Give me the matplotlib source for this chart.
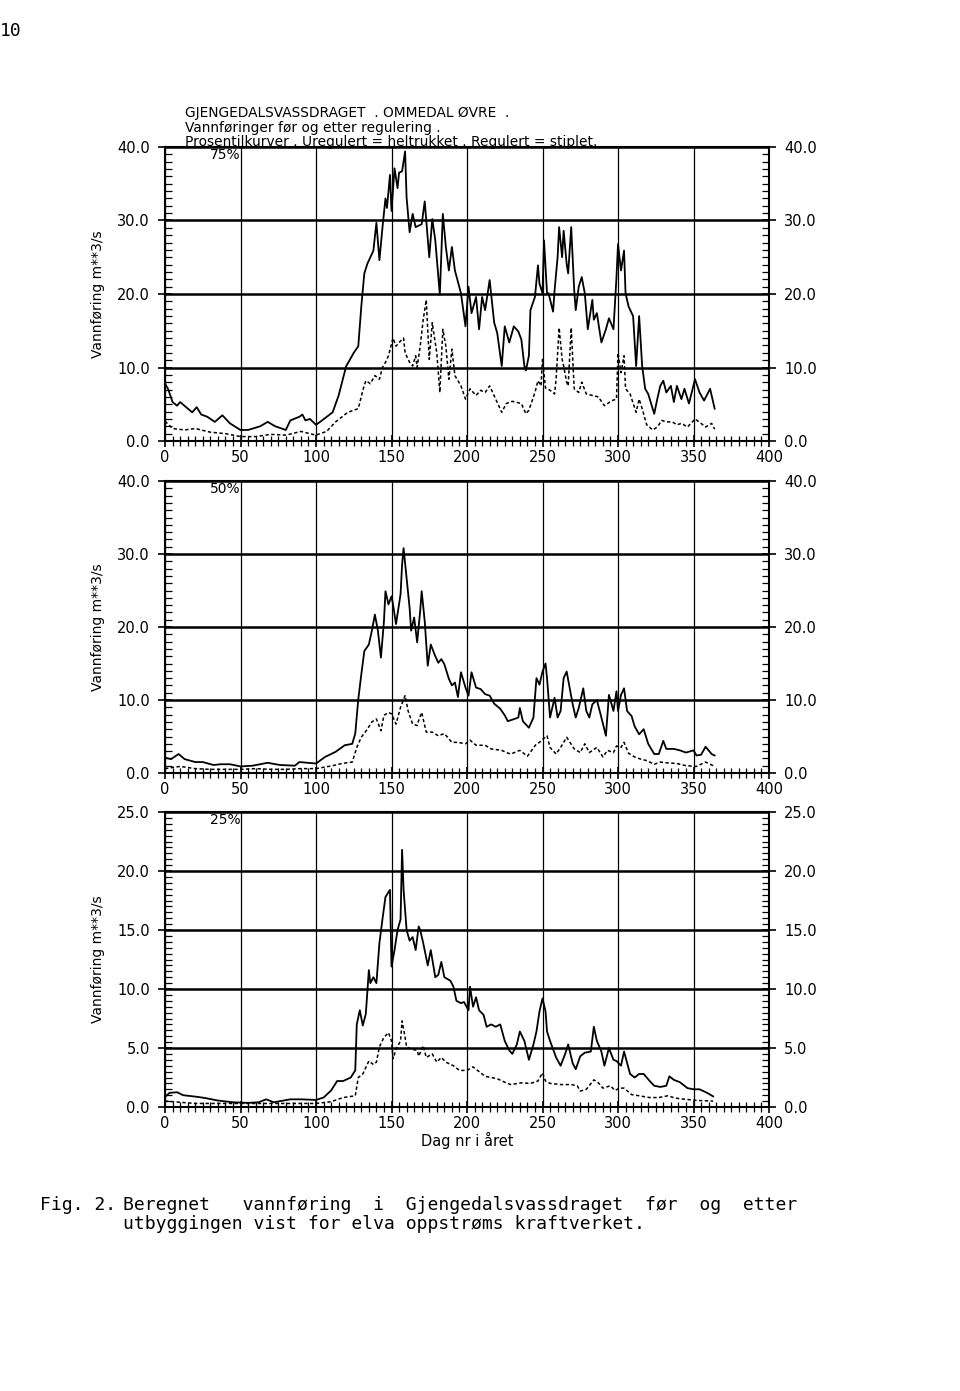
import numpy as np
import matplotlib.pyplot as plt
from matplotlib.ticker import MultipleLocator, FormatStrFormatter

# Panel 1 (75 %) - unregulated (solid) and regulated (dashed)
p1_ureg_day = [0, 2, 5, 8, 10, 14, 18, 21, 24, 28, 33, 38, 43, 50, 55, 63, 68, 73, 80, 83, 89, 91, 93, 96,
               100, 104, 111, 115, 120, 122, 125, 128, 130, 132, 134, 136, 138, 140, 142, 144, 146, 147,
               149, 150, 152, 154, 155, 157, 159, 160, 162, 164, 166, 168, 170, 172, 175, 177, 179, 182,
               184, 186, 188, 190, 192, 196, 199, 201, 203, 206, 208, 210, 212, 215, 218, 220, 223, 225,
               228, 231, 234, 236, 238, 239, 241, 242, 245, 247, 248, 250, 251, 253, 254, 257, 258, 260,
               261, 263, 264, 266, 267, 269, 271, 272, 274, 276, 278, 280, 283, 284, 286, 289, 292, 294,
               297, 299, 300, 302, 304, 305, 307, 310, 312, 314, 316, 318, 320, 324, 326, 328, 330, 332,
               335, 337, 339, 342, 344, 347, 351, 354, 357, 361, 364]
p1_ureg_val = [7.8, 7.1, 5.3, 4.8, 5.3, 4.6, 3.9, 4.6, 3.6, 3.3, 2.6, 3.5, 2.4, 1.5, 1.5, 2.0, 2.6, 2.0, 1.5,
               2.8, 3.3, 3.6, 2.8, 3.0, 2.2, 2.8, 3.9, 6.2, 10.2, 10.9, 12.0, 12.9, 18.3, 22.8, 24.1, 25.0,
               25.9, 29.7, 24.6, 29.0, 33.0, 31.7, 36.2, 31.3, 37.1, 34.4, 36.5, 36.7, 39.4, 33.1, 28.4,
               30.9, 29.1, 29.3, 29.5, 32.6, 25.0, 30.2, 27.3, 19.9, 30.9, 26.4, 23.2, 26.4, 23.2, 20.1,
               15.6, 21.0, 17.4, 19.6, 15.2, 19.6, 17.8, 21.9, 16.1, 14.7, 10.2, 15.6, 13.4, 15.6, 14.9,
               13.8, 10.2, 9.6, 11.6, 17.8, 19.6, 23.9, 21.4, 20.1, 27.3, 20.1, 20.1, 17.6, 20.5, 25.0,
               29.1, 25.0, 28.6, 24.1, 22.8, 29.1, 20.5, 17.8, 21.0, 22.3, 20.1, 15.2, 19.2, 16.5, 17.4,
               13.4, 15.2, 16.7, 15.2, 22.3, 26.8, 23.2, 25.9, 20.1, 18.3, 17.0, 10.2, 17.0, 10.2, 7.1,
               6.4, 3.7, 5.7, 7.5, 8.2, 6.6, 7.5, 5.3, 7.5, 5.7, 7.1, 5.1, 8.4, 6.6, 5.5, 7.1, 4.4]
p1_reg_day = [0, 5, 13, 20, 30, 40, 50, 60, 70, 80, 90, 100, 107, 113, 121, 128, 131, 133, 136, 139, 142,
              144, 146, 148, 151, 153, 155, 158, 159, 162, 164, 166, 167, 169, 171, 173, 175, 177, 178,
              180, 182, 184, 186, 188, 190, 192, 196, 199, 202, 206, 209, 212, 215, 219, 223, 226, 230,
              236, 239, 241, 245, 247, 249, 250, 252, 255, 258, 259, 261, 263, 264, 266, 267, 269, 271,
              274, 276, 279, 283, 287, 291, 296, 299, 300, 302, 304, 305, 308, 312, 314, 316, 319, 323,
              326, 329, 332, 336, 339, 342, 346, 351, 355, 358, 362, 364]
p1_reg_val = [2.7, 1.7, 1.5, 1.7, 1.2, 1.0, 0.6, 0.6, 0.9, 0.8, 1.3, 0.8, 1.3, 2.6, 3.9, 4.4, 6.9, 8.2, 7.8,
              8.9, 8.4, 10.0, 10.7, 11.6, 14.0, 12.9, 13.4, 14.0, 12.0, 10.7, 10.2, 11.6, 10.0, 12.9, 16.5,
              19.2, 11.1, 16.1, 14.7, 12.0, 6.6, 15.2, 12.9, 8.4, 12.5, 8.9, 7.5, 5.7, 7.1, 6.2, 6.9, 6.6,
              7.5, 5.7, 3.9, 5.1, 5.4, 5.1, 3.7, 4.2, 6.6, 8.2, 7.5, 11.1, 7.2, 6.9, 6.4, 8.4, 15.4, 11.1,
              10.2, 8.0, 7.5, 15.4, 7.1, 6.6, 8.0, 6.4, 6.2, 6.0, 4.8, 5.5, 5.7, 12.0, 9.3, 11.6, 7.1,
              6.4, 3.9, 5.7, 4.4, 2.2, 1.5, 1.9, 2.8, 2.6, 2.6, 2.2, 2.4, 1.9, 3.0, 2.4, 1.9, 2.4, 1.6]

# Panel 2 (50 %)
p2_ureg_day = [0, 4, 9, 13, 20, 25, 32, 37, 43, 50, 58, 68, 76, 86, 89, 100, 106, 113, 119, 124, 126, 128,
               130, 132, 135, 137, 139, 141, 143, 145, 146, 148, 150, 151, 153, 156, 157, 158, 160, 162,
               163, 165, 167, 169, 170, 172, 174, 176, 179, 181, 183, 185, 188, 190, 192, 194, 196, 199,
               201, 203, 206, 209, 212, 215, 218, 222, 225, 227, 230, 234, 235, 237, 241, 244, 246, 248,
               250, 252, 253, 255, 258, 260, 262, 264, 266, 270, 272, 274, 277, 279, 281, 283, 286, 289,
               292, 294, 297, 299, 300, 302, 304, 306, 309, 311, 314, 317, 320, 324, 327, 330, 332, 337,
               341, 345, 350, 352, 355, 358, 362, 364]
p2_ureg_val = [2.1, 1.9, 2.6, 1.9, 1.5, 1.5, 1.1, 1.2, 1.2, 0.9, 1.0, 1.4, 1.1, 1.0, 1.5, 1.3, 2.2, 2.9,
               3.8, 4.0, 5.4, 10.1, 13.5, 16.7, 17.6, 19.5, 21.7, 19.5, 15.8, 20.8, 24.9, 23.1, 24.2, 23.1,
               20.4, 24.5, 28.5, 30.8, 26.7, 22.6, 19.5, 21.3, 17.9, 22.2, 24.9, 20.8, 14.7, 17.6, 16.0,
               15.1, 15.6, 14.9, 12.9, 12.0, 12.4, 10.4, 13.8, 11.7, 10.6, 13.8, 11.7, 11.5, 10.8, 10.6,
               9.5, 8.8, 7.9, 7.1, 7.3, 7.6, 8.9, 7.1, 6.2, 7.6, 13.0, 12.1, 13.9, 15.0, 13.0, 7.6, 10.3,
               7.6, 8.5, 13.0, 13.9, 9.4, 7.6, 8.9, 11.6, 8.5, 7.6, 9.4, 10.0, 7.6, 5.1, 10.7, 8.5, 11.2,
               8.5, 10.7, 11.6, 8.5, 7.8, 6.4, 5.3, 6.0, 4.0, 2.6, 2.6, 4.4, 3.3, 3.3, 3.1, 2.8, 3.1, 2.4,
               2.5, 3.6, 2.6, 2.4]
p2_reg_day = [0, 10, 20, 30, 40, 50, 60, 70, 80, 90, 100, 111, 117, 124, 127, 130, 134, 137, 140, 143, 145,
              148, 150, 153, 156, 159, 161, 164, 167, 168, 170, 173, 177, 181, 185, 190, 194, 199, 202,
              206, 212, 216, 223, 226, 229, 235, 240, 246, 248, 250, 253, 255, 259, 262, 266, 271, 275,
              278, 281, 286, 290, 293, 297, 299, 302, 304, 307, 311, 315, 319, 324, 328, 332, 339, 345,
              352, 358, 364]
p2_reg_val = [0.6, 0.9, 0.6, 0.5, 0.5, 0.5, 0.6, 0.5, 0.5, 0.6, 0.6, 1.0, 1.3, 1.5, 3.5, 4.9, 6.0, 7.0, 7.4,
              5.8, 7.9, 8.3, 8.1, 6.7, 9.0, 10.6, 8.5, 6.7, 6.5, 7.2, 8.3, 5.6, 5.6, 5.1, 5.4, 4.2, 4.2,
              4.0, 4.5, 3.8, 3.8, 3.3, 3.1, 2.8, 2.6, 3.1, 2.3, 4.0, 4.2, 4.6, 5.1, 3.5, 2.6, 3.5, 4.9,
              3.3, 2.8, 4.0, 2.8, 3.5, 2.2, 3.1, 2.8, 3.7, 3.5, 4.2, 2.7, 2.2, 1.9, 1.7, 1.2, 1.5, 1.4,
              1.3, 1.0, 0.9, 1.5, 0.9]

# Panel 3 (25 %)
p3_ureg_day = [0, 3, 8, 12, 22, 27, 35, 45, 55, 62, 67, 72, 83, 90, 100, 105, 110, 114, 118, 123, 126, 127,
               129, 131, 133, 135, 136, 138, 140, 142, 144, 146, 149, 150, 152, 154, 156, 157, 158, 160,
               162, 164, 166, 168, 169, 171, 174, 176, 179, 181, 183, 185, 189, 191, 193, 196, 198, 201,
               202, 204, 206, 208, 211, 213, 216, 219, 222, 225, 228, 230, 233, 235, 238, 241, 244, 246,
               248, 250, 252, 253, 255, 259, 262, 265, 267, 270, 272, 275, 278, 282, 284, 286, 289, 291,
               294, 297, 299, 302, 304, 308, 311, 314, 317, 321, 324, 328, 332, 334, 337, 341, 346, 350,
               354, 359, 363]
p3_ureg_val = [0.85, 1.2, 1.25, 1.0, 0.85, 0.75, 0.55, 0.4, 0.35, 0.4, 0.65, 0.4, 0.65, 0.65, 0.6, 0.8,
               1.4, 2.2, 2.2, 2.5, 3.1, 7.0, 8.2, 6.9, 7.9, 11.6, 10.5, 11.0, 10.5, 13.9, 15.9, 17.8, 18.4,
               11.9, 13.3, 15.0, 15.9, 21.8, 18.4, 15.0, 14.1, 14.4, 13.3, 15.3, 15.0, 13.9, 12.0, 13.3,
               11.0, 11.2, 12.3, 11.0, 10.7, 10.2, 9.0, 8.8, 8.9, 8.2, 10.2, 8.5, 9.3, 8.2, 7.8, 6.8, 7.0,
               6.8, 7.0, 5.6, 4.8, 4.5, 5.3, 6.4, 5.6, 4.0, 5.3, 6.4, 8.1, 9.2, 8.1, 6.4, 5.6, 4.2, 3.5,
               4.5, 5.3, 3.7, 3.2, 4.3, 4.6, 4.7, 6.8, 5.6, 4.7, 3.5, 5.0, 4.0, 3.9, 3.5, 4.7, 2.8, 2.5,
               2.8, 2.8, 2.2, 1.8, 1.7, 1.8, 2.6, 2.3, 2.1, 1.6, 1.5, 1.5, 1.2, 0.9]
p3_reg_day = [0, 10, 20, 40, 60, 80, 100, 110, 118, 126, 128, 131, 135, 138, 140, 142, 145, 148, 150, 151,
              153, 156, 157, 159, 160, 163, 167, 168, 171, 173, 177, 180, 183, 186, 191, 195, 200, 204,
              207, 212, 216, 220, 225, 229, 236, 242, 247, 250, 252, 255, 262, 269, 273, 275, 279, 284,
              287, 290, 295, 298, 301, 304, 309, 314, 321, 327, 333, 338, 345, 353, 363]
p3_reg_val = [0.5, 0.4, 0.3, 0.3, 0.3, 0.3, 0.3, 0.45, 0.8, 0.95, 2.5, 2.8, 3.9, 3.6, 3.8, 5.1, 5.9, 6.3,
              5.6, 4.1, 4.9, 5.6, 7.3, 5.9, 5.1, 4.9, 4.8, 4.3, 5.2, 4.2, 4.5, 3.8, 4.2, 3.8, 3.5, 3.1,
              3.1, 3.4, 3.1, 2.6, 2.5, 2.4, 2.1, 1.9, 2.05, 2.0, 2.2, 2.9, 2.2, 2.0, 1.9, 1.9, 1.8, 1.35,
              1.5, 2.3, 2.05, 1.6, 1.8, 1.4, 1.6, 1.6, 1.05, 0.95, 0.8, 0.8, 0.95, 0.75, 0.65, 0.55, 0.5]

x_ticks = [0, 50, 100, 150, 200, 250, 300, 350, 400]

W, H = 960, 1391
fig = plt.figure(figsize=(W / 100, H / 100), dpi=100)


def panel(top, bottom, ymax, ystep, yminor, sol_d, sol_v, das_d, das_v, pct):
    ax = fig.add_axes([165 / W, 1 - bottom / H, 604 / W, (bottom - top) / H])
    ax.plot(sol_d, sol_v, color='black', lw=1.3, zorder=3)
    ax.plot(das_d, das_v, color='black', lw=1.1, linestyle=(0, (2.2, 1.6)), zorder=3)
    ax.set_xlim(0, 400)
    ax.set_ylim(0, ymax)
    ax.set_xticks(x_ticks)
    ax.xaxis.set_minor_locator(MultipleLocator(5))
    ax.yaxis.set_major_locator(MultipleLocator(ystep))
    ax.yaxis.set_minor_locator(MultipleLocator(yminor))
    ax.yaxis.set_major_formatter(FormatStrFormatter('%.1f'))
    ax.grid(axis='y', which='major', color='black', lw=1.8)
    ax.grid(axis='x', which='major', color='black', lw=0.9)
    ax.tick_params(axis='y', which='major', direction='inout', length=10, width=1.2,
                   left=True, right=True, labelleft=True, labelright=True, labelsize=10.5, pad=6)
    ax.tick_params(axis='y', which='minor', direction='in', length=5, width=0.9, left=True, right=True)
    ax.tick_params(axis='x', which='major', direction='inout', length=9, width=1.2, labelsize=10.5, pad=2)
    ax.tick_params(axis='x', which='minor', direction='inout', length=7, width=0.9)
    for s in ax.spines.values():
        s.set_linewidth(1.5)
    ax.set_ylabel('Vannføring m**3/s', fontsize=10)
    ax.yaxis.set_label_coords(-0.1, 0.5)
    ax.text(50, ymax * 0.995, pct, ha='right', va='top', fontsize=10)
    return ax


ax1 = panel(147, 441, 40, 10, 1, p1_ureg_day, p1_ureg_val, p1_reg_day, p1_reg_val, '75%')
ax2 = panel(481, 773, 40, 10, 1, p2_ureg_day, p2_ureg_val, p2_reg_day, p2_reg_val, '50%')
ax3 = panel(812, 1107, 25, 5, 0.5, p3_ureg_day, p3_ureg_val, p3_reg_day, p3_reg_val, '25%')
ax3.set_xlabel('Dag nr i året', fontsize=10.5, labelpad=1)

# heading above the first panel
fig.text(185 / W, 1 - 117 / H, 'GJENGEDALSVASSDRAGET  . OMMEDAL ØVRE  .', fontsize=9.9, va='baseline')
fig.text(185 / W, 1 - 132 / H, 'Vannføringer før og etter regulering .', fontsize=9.9, va='baseline')
fig.text(185 / W, 1 - 146 / H, 'Prosentilkurver . Uregulert = heltrukket . Regulert = stiplet.',
         fontsize=9.9, va='baseline')

# page text
mono = 'DejaVu Sans Mono'
fig.text(0, 1 - 36 / H, '10', fontsize=13, family=mono, va='baseline')
fig.text(40 / W, 1 - 1210 / H, 'Fig. 2.', fontsize=13, family=mono, va='baseline')
fig.text(123 / W, 1 - 1210 / H, 'Beregnet   vannføring  i  Gjengedalsvassdraget  før  og  etter',
         fontsize=13, family=mono, va='baseline')
fig.text(123 / W, 1 - 1229 / H, 'utbyggingen vist for elva oppstrøms kraftverket.',
         fontsize=13, family=mono, va='baseline')

fig.savefig('out.png', dpi=100)
